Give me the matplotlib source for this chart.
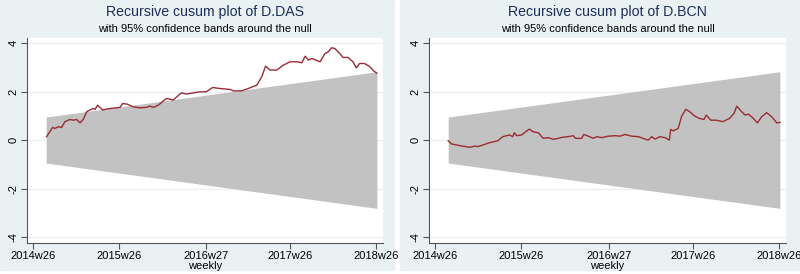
import matplotlib.pyplot as plt
from matplotlib.patches import Rectangle

plt.rcParams['font.family'] = ['Liberation Sans', 'DejaVu Sans']

# weeks since 2014w26
tick_pos = [0, 52, 105, 156, 208]
tick_labels = ['2014w26', '2015w26', '2016w27', '2017w26', '2018w26']

band_t = [8, 208.5]
band_upper = [0.95, 2.82]
band_lower = [-0.95, -2.82]

das_t = [8.3, 11.9, 13.3, 15.4, 17.4, 19.4, 22.4, 24.4, 26.5, 28.5, 30.5, 32.6, 34.6,
         36.6, 37.6, 39.2, 40.6, 42.3, 44.7, 47.7, 52.8, 54.4, 57.2, 60.8, 64.9, 68.9,
         70.9, 73, 76, 81, 85, 90, 93, 101, 105, 109, 113, 119.5, 121.5, 126.5, 130.6,
         135.7, 138.7, 141, 143.7, 147.8, 151.8, 155.8, 160, 163, 165, 167, 169, 174,
         177, 179, 181, 183, 186, 188, 191, 194, 196, 198, 201, 204.4, 206.4, 208.4]
das_v = [0.14, 0.52, 0.48, 0.55, 0.52, 0.76, 0.85, 0.82, 0.85, 0.71, 0.85, 1.17, 1.24,
         1.31, 1.26, 1.44, 1.35, 1.24, 1.28, 1.31, 1.35, 1.51, 1.48, 1.37, 1.33, 1.35,
         1.40, 1.35, 1.44, 1.72, 1.65, 1.95, 1.90, 1.99, 1.99, 2.17, 2.13, 2.09, 2.03,
         2.03, 2.13, 2.27, 2.61, 3.05, 2.89, 2.89, 3.09, 3.23, 3.23, 3.19, 3.46, 3.30,
         3.37, 3.23, 3.57, 3.64, 3.81, 3.78, 3.57, 3.41, 3.41, 3.23, 2.98, 3.16, 3.16,
         3.02, 2.86, 2.76]

bcn_t = [8, 10, 15, 21, 24, 26, 30, 33, 38, 41, 45, 47, 48, 49.4, 52.4, 54.4, 57, 59.4,
         62.5, 65.5, 68.5, 71.5, 74.5, 76.6, 80.6, 83.6, 85, 88.7, 90, 92.7, 95.7, 97.8,
         100.8, 104.8, 108.8, 111.9, 114.9, 118.9, 122.9, 127, 129, 131, 133, 136, 139,
         141.7, 142.5, 144, 147, 149, 151.6, 154, 157, 160, 162.6, 164, 166.7, 170, 174,
         178, 180.8, 182.4, 185.4, 187.5, 189.5, 192.5, 194.9, 197.5, 200.5, 203.6,
         206.6, 208.6]
bcn_v = [-0.03, -0.16, -0.23, -0.30, -0.25, -0.27, -0.18, -0.11, -0.03, 0.14, 0.21, 0.14,
         0.30, 0.18, 0.21, 0.32, 0.45, 0.34, 0.30, 0.07, 0.10, 0.03, 0.07, 0.11, 0.14,
         0.18, 0.07, 0.07, 0.23, 0.16, 0.07, 0.14, 0.10, 0.16, 0.18, 0.16, 0.23, 0.16,
         0.14, 0.04, 0.0, 0.14, 0.04, 0.14, 0.10, 0.0, 0.44, 0.38, 0.48, 0.96, 1.27, 1.17,
         0.99, 0.89, 0.85, 1.03, 0.82, 0.82, 0.76, 0.89, 1.10, 1.40, 1.17, 1.03, 1.07,
         0.89, 0.71, 0.96, 1.13, 0.96, 0.71, 0.73]

bg = '#EAF1F3'
fig = plt.figure(figsize=(8, 2.74), dpi=100)
fig.patches.append(Rectangle((0, 0.015), 394 / 800, 0.985, transform=fig.transFigure,
                             color=bg, zorder=-10))
fig.patches.append(Rectangle((400 / 800, 0.015), 400 / 800, 0.985, transform=fig.transFigure,
                             color=bg, zorder=-10))

panels = [
    ([27 / 800, 0.1131, 356 / 800, 0.748], 'D.DAS', das_t, das_v),
    ([429 / 800, 0.1131, 357 / 800, 0.748], 'D.BCN', bcn_t, bcn_v),
]

for rect, name, t, v in panels:
    ax = fig.add_axes(rect)
    ax.set_facecolor('white')
    for y in [-4, -2, 0, 2, 4]:
        ax.axhline(y, color=bg, lw=1, zorder=0)
    ax.fill_between(band_t, band_lower, band_upper, color='#C2C2C2', lw=0, zorder=1)
    ax.plot(t, v, color='#9B2B36', lw=1.0, zorder=2)
    ax.set_xlim(-3.6, 212.2)
    ax.set_ylim(-4.25, 4.21)
    ax.set_xticks(tick_pos)
    ax.set_xticklabels(tick_labels, fontsize=8)
    ax.set_yticks([-4, -2, 0, 2, 4])
    ax.set_yticklabels(['-4', '-2', '0', '2', '4'], fontsize=8, rotation=90, va='center')
    for s in ['top', 'right']:
        ax.spines[s].set_visible(False)
    for s in ['left', 'bottom']:
        ax.spines[s].set_color('#555555')
        ax.spines[s].set_linewidth(0.8)
    ax.tick_params(length=4, width=0.8, color='#555555', pad=2)
    ax.set_xlabel('weekly', fontsize=8, labelpad=0)
    ax.text(0.5, 1.127, 'Recursive cusum plot of ' + name, transform=ax.transAxes,
            ha='center', va='center', fontsize=10.2, color='#1C2E5A')
    ax.text(0.5, 1.046, 'with 95% confidence bands around the null', transform=ax.transAxes,
            ha='center', va='center', fontsize=8, color='black')

fig.savefig('out.png', dpi=100)
